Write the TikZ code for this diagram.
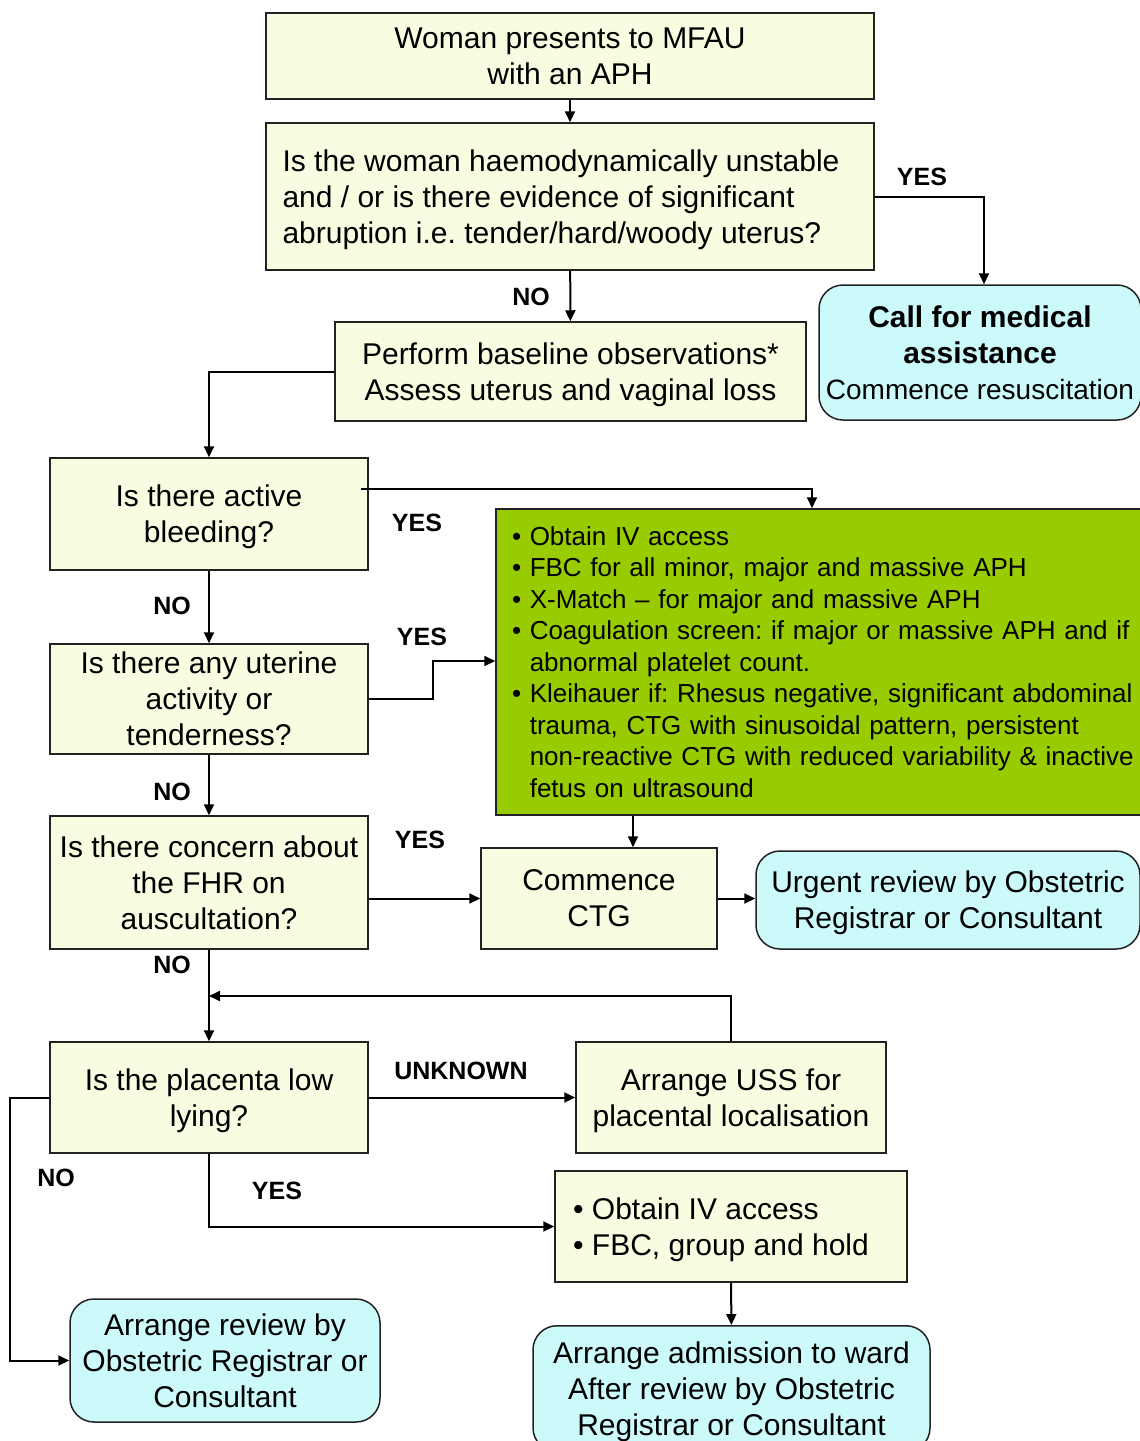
\documentclass[tikz,border=0pt]{standalone}
\usepackage{fontspec}
\setmainfont{Liberation Sans}
\usetikzlibrary{arrows.meta}
\definecolor{yfill}{HTML}{FAFCE1}
\definecolor{cfill}{HTML}{CCFAFA}
\definecolor{gfill}{HTML}{99CC00}
\definecolor{edge}{HTML}{222222}
\frenchspacing
\begin{document}
\begin{tikzpicture}[x=1pt,y=-1pt,
  base/.style={draw=edge,line width=1.5pt,inner sep=0pt,align=center,font=\fontsize{30}{36}\selectfont\frenchspacing},
  ybox/.style={base,fill=yfill,text depth=0pt},
  cbox/.style={base,fill=cfill,rounded corners=24pt,text depth=0pt},
  gbox/.style={base,fill=gfill},
  lab/.style={inner sep=0pt,font=\bfseries\fontsize{25}{30}\selectfont},
  arr/.style={draw=black,line width=2pt,-{Triangle[length=11pt,width=10pt]}}]
\useasboundingbox (0,0) rectangle (1140,1441);
\fill[white] (0,0) rectangle (1140,1441);

\node[ybox,minimum width=608,minimum height=86] (woman) at (570,56) {Woman presents to MFAU\\with an APH};
\node[ybox,minimum width=608,minimum height=147,align=left] (q1) at (570,196.5) {Is the woman haemodynamically unstable\rule{18pt}{0pt}\\and / or is there evidence of significant\\abruption i.e. tender/hard/woody uterus?};
\node[ybox,minimum width=471,minimum height=99] (perf) at (570.5,371.5) {Perform baseline observations*\\Assess uterus and vaginal loss};
\node[cbox,minimum width=322,minimum height=135] (call) at (980,352.5) {{\bfseries Call for medical}\\{\bfseries assistance}\\{\fontsize{28}{36}\selectfont Commence resuscitation}};

\node[ybox,minimum width=318,minimum height=112] (bleed) at (209,514) {Is there active\\bleeding?};
\node[gbox,minimum height=306,text width=640,inner xsep=16pt,align=left,font=\fontsize{26}{31.5}\selectfont\frenchspacing] (green) at (832,662) {%
\textbullet\ Obtain IV access\\
\textbullet\ FBC for all minor, major and massive APH\\
\textbullet\ X-Match -- for major and massive APH\\
\textbullet\ Coagulation screen: if major or massive APH and if\\
\phantom{\textbullet\ }abnormal platelet count.\\
\textbullet\ Kleihauer if: Rhesus negative, significant abdominal\\
\phantom{\textbullet\ }trauma, CTG with sinusoidal pattern, persistent\\
\phantom{\textbullet\ }non-reactive CTG with reduced variability \& inactive\\
\phantom{\textbullet\ }fetus on ultrasound};
\node[ybox,minimum width=318,minimum height=110] (uter) at (209,699) {Is there any uterine\\activity or\\tenderness?};
\node[ybox,minimum width=318,minimum height=133] (fhr) at (209,882.5) {Is there concern about\\the FHR on\\auscultation?};
\node[ybox,minimum width=236,minimum height=101] (ctg) at (599,898.5) {Commence\\CTG};
\node[cbox,minimum width=384,minimum height=98] (urg) at (948,900) {Urgent review by Obstetric\\Registrar or Consultant};
\node[ybox,minimum width=318,minimum height=111] (plac) at (209,1097.5) {Is the placenta low\\lying?};
\node[ybox,minimum width=310,minimum height=111] (uss) at (731,1097.5) {Arrange USS for\\placental localisation};
\node[ybox,minimum width=352,minimum height=111,align=left] (iv2) at (731,1226.5) {\textbullet\ Obtain IV access\\\textbullet\ FBC, group and hold\rule{20pt}{0pt}};
\node[cbox,minimum width=310,minimum height=123] (rev) at (225,1360.5) {Arrange review by\\Obstetric Registrar or\\Consultant};
\node[cbox,minimum width=397,minimum height=126,anchor=north] (adm) at (731.5,1325) {Arrange admission to ward\\After review by Obstetric\\Registrar or Consultant};

\node[lab] (l1) at (922,177) {YES};
\node[lab] (l2) at (531,297) {NO};
\node[lab] (l3) at (417,523) {YES};
\node[lab] (l4) at (172,606) {NO};
\node[lab] (l5) at (422,637) {YES};
\node[lab] (l6) at (172,792) {NO};
\node[lab] (l7) at (420,840) {YES};
\node[lab] (l8) at (172,965) {NO};
\node[lab] (l9) at (461,1071) {UNKNOWN};
\node[lab] (l10) at (56,1178) {NO};
\node[lab] (l11) at (277,1191) {YES};

\coordinate (merge) at (209,996);

\draw[arr] (woman) -- (q1);
\draw[arr] (q1.east) -| ([xshift=4pt]call.north);
\draw[arr] (q1) -- (perf);
\draw[arr] (perf.west) -| (bleed.north);
\draw[arr] ([yshift=25pt,xshift=-8pt]bleed.east) -| ([xshift=-20pt]green.north);
\draw[arr] (bleed) -- (uter);
\draw[arr] (uter.east) -- ++(64,0) |- ([yshift=1pt]green.west);
\draw[arr] (uter) -- (fhr);
\draw[arr] (fhr.east |- ctg.west) -- (ctg.west);
\draw[arr] ([xshift=34pt]ctg.north |- green.south) -- ([xshift=34pt]ctg.north);
\draw[arr] (ctg.east) -- (urg.west |- ctg.east);
\draw[arr] (fhr) -- (plac);
\draw[arr] (uss.north) |- (merge);
\draw[arr] (plac) -- (uss);
\draw[arr] (plac.west) -- ++(-39,0) |- (rev.west);
\draw[arr] (plac.south) |- (iv2.west);
\draw[arr] (iv2) -- (adm);
\end{tikzpicture}
\end{document}
